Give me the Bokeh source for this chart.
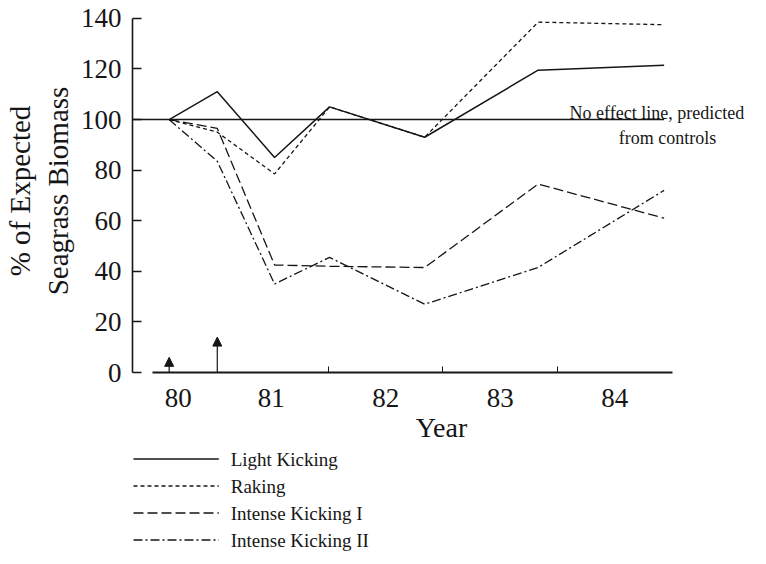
from bokeh.plotting import figure
from bokeh.layouts import column
from bokeh.core.properties import value
from bokeh.models import (Range1d, FixedTicker, Label, Arrow, NormalHead,
                          ColumnDataSource)
from bokeh.embed import file_html
from bokeh.resources import INLINE

# ---- data ----
sample_years = [80.61, 81.03, 81.53, 82.01, 82.84, 83.83, 84.93]
light_kicking = [100, 111, 85, 105, 93, 119.5, 121.5]
raking = [100, 95, 78.5, 105, 93, 138.5, 137.5]
intense_kicking_1 = [100, 96.5, 42.5, 42, 41.5, 74.5, 61]
intense_kicking_2 = [100, 83.5, 35, 45.5, 27, 41.5, 72]

no_effect_x = [80.29, 84.93]
no_effect_y = [100, 100]

treatment_years = [80.61, 81.03]
treatment_marks = [6, 14]

y_ticks = [0, 20, 40, 60, 80, 100, 120, 140]
year_label_pos = [80.69, 81.5, 82.5, 83.5, 84.5]
year_labels = ["80", "81", "82", "83", "84"]
year_bounds = [82, 83, 84]

series_names = ["Light Kicking", "Raking", "Intense Kicking I", "Intense Kicking II"]
series_dash = ["solid", "4 3", "10 4", "9 3 2 3"]
series_width = [1.5, 1.3, 1.3, 1.3]
series_values = [light_kicking, raking, intense_kicking_1, intense_kicking_2]

FONT = "Liberation Serif"
INK = "#161616"

W = 750
LEFT = 127
TOP = 9
FRAME_H = 363
BOTTOM = 73
PX_PER_YEAR = 115.5
x0 = 80.29

p = figure(width=W, height=TOP + FRAME_H + BOTTOM,
           x_range=Range1d(x0, x0 + (W - LEFT) / PX_PER_YEAR),
           y_range=Range1d(0, 143.5),
           output_backend="svg", toolbar_location=None,
           min_border_left=LEFT, min_border_right=0, min_border_top=TOP,
           min_border_bottom=BOTTOM, outline_line_color=None,
           background_fill_color="white", border_fill_color="white")
p.grid.visible = False

# y axis
ya = p.yaxis[0]
ya.bounds = (0, 140)
ya.ticker = FixedTicker(ticks=y_ticks)
ya.major_tick_in = 9
ya.major_tick_out = 0
ya.minor_tick_in = 0
ya.minor_tick_out = 0
ya.major_label_standoff = 11
ya.axis_line_width = 1.6
ya.axis_line_color = INK
ya.major_tick_line_color = INK
ya.major_tick_line_width = 1.5
ya.major_label_text_font = FONT
ya.major_label_text_font_size = "27px"
ya.major_label_text_color = INK
ya.axis_label = "% of Expected\nSeagrass Biomass"
ya.axis_label_text_font = FONT
ya.axis_label_text_font_size = "29px"
ya.axis_label_text_font_style = "normal"
ya.axis_label_text_color = INK
ya.axis_label_standoff = 4

# x axis
xa = p.xaxis[0]
xa.bounds = (80.463, 85.0)
xa.ticker = FixedTicker(ticks=year_label_pos, minor_ticks=year_bounds)
xa.major_label_overrides = dict(zip(year_label_pos, year_labels))
xa.major_tick_in = 0
xa.major_tick_out = 0
xa.minor_tick_in = 6
xa.minor_tick_out = 0
xa.minor_tick_line_color = INK
xa.axis_line_width = 2
xa.axis_line_color = INK
xa.major_label_standoff = 16
xa.major_label_text_font = FONT
xa.major_label_text_font_size = "27px"
xa.major_label_text_color = INK
xa.axis_label = "Year"
xa.axis_label_text_font = FONT
xa.axis_label_text_font_size = "28px"
xa.axis_label_text_font_style = "normal"
xa.axis_label_text_color = INK
xa.axis_label_standoff = 2

# lines
p.line(no_effect_x, no_effect_y, line_color=INK, line_width=1.5)
for vals, dash, w in zip(series_values, series_dash, series_width):
    p.line(sample_years, vals, line_color=INK, line_width=w, line_dash=dash)

# treatment arrows
src = ColumnDataSource(dict(x0=treatment_years, y0=[0] * len(treatment_years),
                            x1=treatment_years, y1=treatment_marks))
p.add_layout(Arrow(source=src, x_start="x0", y_start="y0", x_end="x1", y_end="y1",
                   line_color=INK, line_width=1.2,
                   end=NormalHead(size=9, fill_color=INK, line_color=INK)))

# annotation text
p.add_layout(Label(x=84.105, y=102.4, text="No effect line, predicted",
                   text_font=FONT, text_font_size="18px", text_color=INK,
                   text_baseline="alphabetic", text_align="left"))
p.add_layout(Label(x=84.96, y=92.6, text="from controls",
                   text_font=FONT, text_font_size="18px", text_color=INK,
                   text_baseline="alphabetic", text_align="center"))

# ---- key (legend) panel below the chart, in pixel units from the axis ----
KEY_H = 109
ROW_H = 27
KEY_X0, KEY_LEN, KEY_GAP = 1, 86, 12
lg = figure(width=W, height=KEY_H, x_range=Range1d(0, W - LEFT),
            y_range=Range1d(KEY_H, 0),
            output_backend="svg", toolbar_location=None,
            min_border_left=LEFT, min_border_right=0, min_border_top=0,
            min_border_bottom=0, outline_line_color=None,
            background_fill_color="white", border_fill_color="white")
lg.axis.visible = False
lg.grid.visible = False
rows_y = [ROW_H * (i + 0.5) for i in range(len(series_names))]
for yc, dash, w in zip(rows_y, series_dash, series_width):
    lg.line([KEY_X0, KEY_X0 + KEY_LEN], [yc, yc], line_color=INK, line_width=w,
            line_dash=dash)
lg.text(x=[KEY_X0 + KEY_LEN + KEY_GAP] * len(series_names), y=rows_y,
        text=series_names, text_font=value(FONT), text_font_size="19px",
        text_color=INK, text_baseline="middle", text_align="left")

open("out.html", "w").write(file_html(column(p, lg), INLINE))
